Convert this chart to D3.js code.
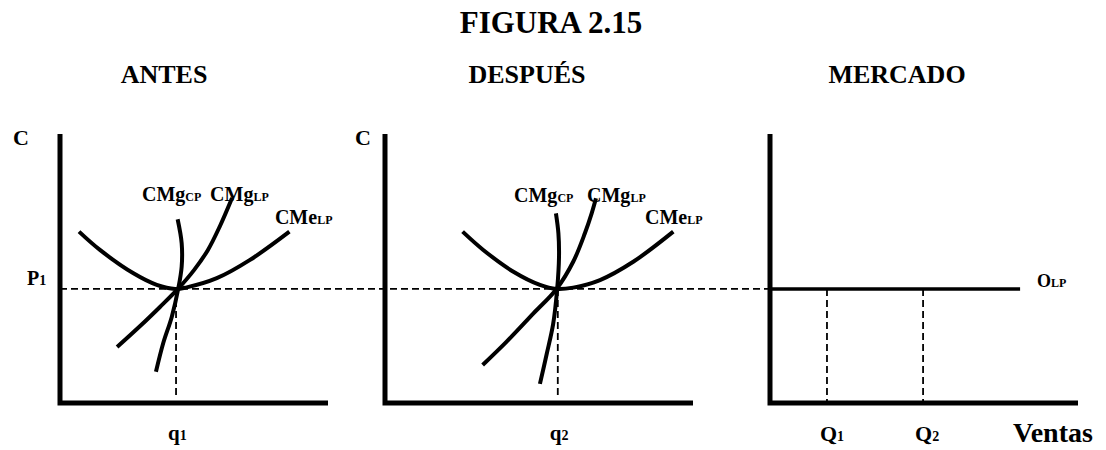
<html>
<head>
<script src="https://d3js.org/d3.v7.min.js"></script>
<style>
  body { margin: 0; background: #fff; }
  text { font-family: "Liberation Serif", "Times New Roman", serif; font-weight: bold; fill: #000; }
</style>
</head>
<body>
<svg id="fig" width="1106" height="450"></svg>
<script>
// precio de equilibrio de largo plazo (P1)
const p1 = 4.24;

// ANTES: curvas de costos de la empresa (cantidad, costo)
const antesCMe = [[0.71,6.37],[1.49,5.69],[2.74,4.82],[3.61,4.39],[4.3,4.24],[4.73,4.3],[5.85,4.64],[7.09,5.32],[8.56,6.37]];
const antesCMgLP = [[2.13,2.08],[2.99,2.86],[3.73,3.57],[4.4,4.24],[5.0,4.94],[5.52,5.69],[5.97,6.58],[6.42,7.62]];
const antesCMgCP = [[3.58,1.16],[3.85,2.22],[4.17,3.2],[4.41,4.24],[4.54,5.07],[4.54,5.94],[4.39,6.83]];
const q1 = 4.33;

// DESPUÉS
const despCMe = [[2.52,6.37],[3.19,5.69],[4.17,4.88],[5.03,4.39],[5.57,4.24],[6.11,4.29],[6.98,4.57],[8.06,5.25],[9.36,6.37]];
const despCMgLP = [[3.17,1.41],[3.95,2.28],[4.82,3.33],[5.57,4.24],[6.11,5.25],[6.49,6.31],[6.71,7.05],[6.85,7.61]];
const despCMgCP = [[5.03,0.71],[5.25,1.82],[5.46,2.94],[5.59,4.24],[5.65,5.44],[5.63,6.31],[5.55,7.05]];
const q2 = 5.61;

// MERCADO: oferta de largo plazo horizontal
const ofertaLP = [[0, p1], [8.12, p1]];
const Q1 = 1.85, Q2 = 4.97;

// textos
const titulo = "FIGURA 2.15";
const subtitulos = ["ANTES", "DESPUÉS", "MERCADO"];

const svg = d3.select("#fig");

const y = d3.scaleLinear().domain([0, 10]).range([403, 134]);
const xAntes = d3.scaleLinear().domain([0, 10]).range([60, 328]);
const xDesp = d3.scaleLinear().domain([0, 10]).range([385, 693]);
const xMerc = d3.scaleLinear().domain([0, 10]).range([770, 1078]);

// etiqueta con subindice
function label(x, yy, main, sub, size, subSize) {
  const t = svg.append("text").attr("x", x).attr("y", yy).style("font-size", size + "px");
  t.append("tspan").text(main);
  if (sub) t.append("tspan").style("font-size", subSize + "px").text(sub);
  return t;
}

// titulos
svg.append("text").attr("x", 551).attr("y", 33).attr("text-anchor", "middle")
  .style("font-size", "31px").text(titulo);
const subX = [164, 527, 897];
svg.selectAll("text.sub").data(subtitulos).join("text")
  .attr("class", "sub")
  .attr("x", (d, i) => subX[i]).attr("y", 83)
  .attr("text-anchor", "middle")
  .style("font-size", "26px")
  .text(d => d);

// linea P1 punteada que cruza los tres paneles
svg.append("line")
  .attr("x1", xAntes(0)).attr("x2", xMerc(0))
  .attr("y1", y(p1)).attr("y2", y(p1))
  .style("stroke", "#000").style("stroke-width", 1.8)
  .style("stroke-dasharray", "7,4");

const curve = d3.line().curve(d3.curveCatmullRom.alpha(0.5));

function panel(x, curves, q, qName) {
  // vertical punteada en la cantidad
  svg.append("line")
    .attr("x1", x(q)).attr("x2", x(q))
    .attr("y1", y(p1)).attr("y2", y(0.3))
    .style("stroke", "#000").style("stroke-width", 1.8)
    .style("stroke-dasharray", "7,4");

  curves.forEach(c => {
    svg.append("path")
      .datum(c.map(d => [x(d[0]), y(d[1])]))
      .attr("d", curve)
      .style("fill", "none").style("stroke", "#000").style("stroke-width", 4);
  });

  // ejes
  svg.append("path")
    .attr("d", d3.line()([[x(0), y(10)], [x(0), y(0)], [x(10), y(0)]]))
    .style("fill", "none").style("stroke", "#000").style("stroke-width", 5)
    .style("stroke-linejoin", "miter");

  label(x(q) - 8, 440, qName[0], qName[1], 21, 14);
}

panel(xAntes, [antesCMe, antesCMgLP, antesCMgCP], q1, ["q", "1"]);
panel(xDesp, [despCMe, despCMgLP, despCMgCP], q2, ["q", "2"]);

// etiquetas de curvas (posicion en unidades del panel)
const curvaNombres = [["CMg", "CP"], ["CMg", "LP"], ["CMe", "LP"]];
const posAntes = [[3.06, 7.51], [5.6, 7.51], [8.02, 6.65]];
const posDesp = [[4.19, 7.47], [6.56, 7.47], [8.44, 6.65]];
curvaNombres.forEach((n, i) => {
  label(xAntes(posAntes[i][0]), y(posAntes[i][1]), n[0], n[1], 20, 12);
  label(xDesp(posDesp[i][0]), y(posDesp[i][1]), n[0], n[1], 20, 12);
});

label(13, 145, "C", null, 22);
label(355, 145, "C", null, 22);
label(27, 285, "P", "1", 20, 14);

// MERCADO
[Q1, Q2].forEach(q => {
  svg.append("line")
    .attr("x1", xMerc(q)).attr("x2", xMerc(q))
    .attr("y1", y(p1)).attr("y2", y(0))
    .style("stroke", "#000").style("stroke-width", 1.8)
    .style("stroke-dasharray", "7,4");
});
svg.append("path")
  .attr("d", d3.line()(ofertaLP.map(d => [xMerc(d[0]), y(d[1])])))
  .style("fill", "none").style("stroke", "#000").style("stroke-width", 3.5);
svg.append("path")
  .attr("d", d3.line()([[xMerc(0), y(10)], [xMerc(0), y(0)], [xMerc(10), y(0)]]))
  .style("fill", "none").style("stroke", "#000").style("stroke-width", 5);

label(xMerc(8.12) + 17, 287, "O", "LP", 18, 12);
label(xMerc(Q1) - 7, 441, "Q", "1", 22, 14);
label(xMerc(Q2) - 8, 441, "Q", "2", 22, 14);
label(1013, 442, "Ventas", null, 28);
</script>
</body>
</html>
